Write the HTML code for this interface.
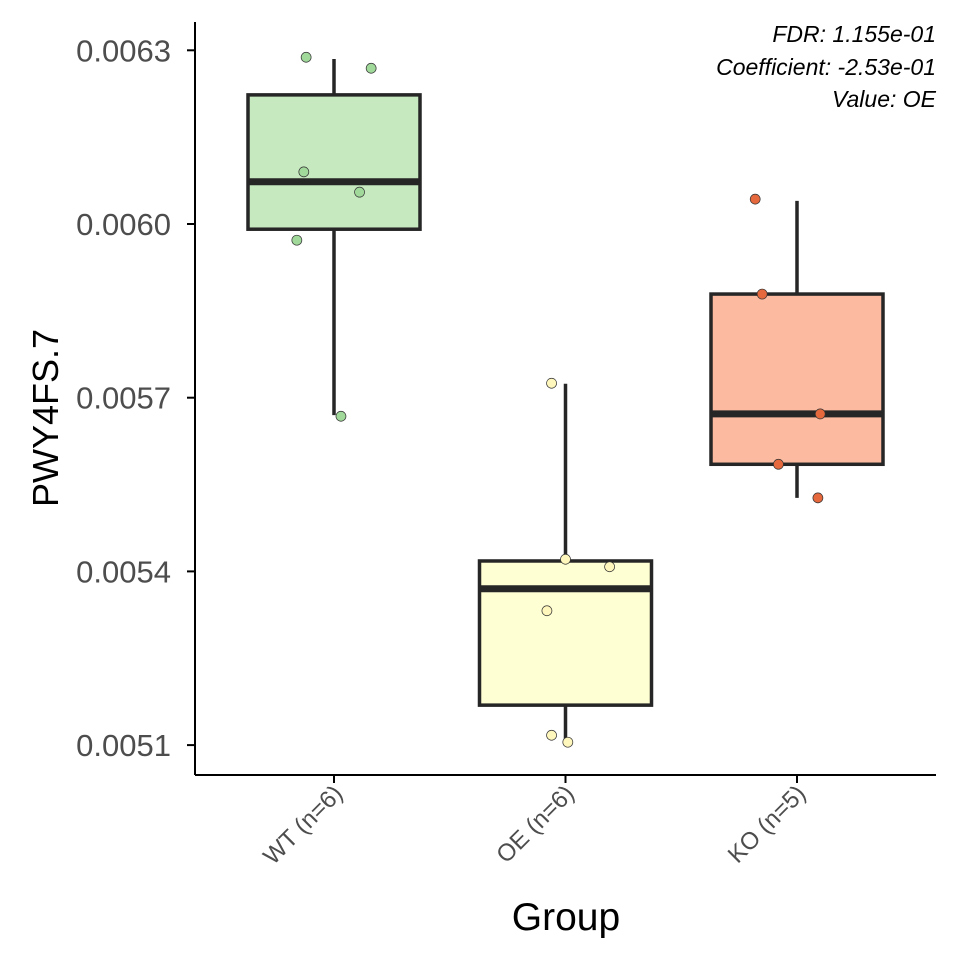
<!DOCTYPE html>
<html><head><meta charset="utf-8"><style>
body{margin:0;background:#fff}
svg{display:block;font-family:"Liberation Sans",Arial,sans-serif}
</style></head><body>
<svg id="chart" width="960" height="960">
<rect width="960" height="960" fill="#fff"/>
<g id="marks"></g>
<line x1="195" y1="22" x2="195" y2="775" stroke="#000" stroke-width="2"/>
<line x1="195" y1="775" x2="936" y2="775" stroke="#000" stroke-width="2"/>
<g id="axes"></g>
<text x="566" y="930" text-anchor="middle" font-size="39" fill="#000">Group</text>
<text transform="translate(58,418) rotate(-90)" text-anchor="middle" font-size="36" fill="#000">PWY4FS.7</text>
<g font-size="23" font-style="italic" text-anchor="end" fill="#000">
<text x="936" y="42">FDR: 1.155e-01</text>
<text x="936" y="75">Coefficient: -2.53e-01</text>
<text x="936" y="107">Value: OE</text>
</g>
</svg>
<script>
const categories=["WT (n=6)","OE (n=6)","KO (n=5)"];
const q1=[0.005991,0.005169,0.005585];
const medians=[0.006073,0.005370,0.005672];
const q3=[0.006223,0.005418,0.005879];
const whiskLo=[0.005670,0.005105,0.005527];
const whiskHi=[0.006285,0.005724,0.006040];
const pointsWT=[0.006288,0.006269,0.006090,0.006055,0.005972,0.005668];
const pointsOE=[0.005725,0.005421,0.005408,0.005332,0.005117,0.005105];
const pointsKO=[0.006043,0.005879,0.005672,0.005585,0.005527];
const jitterWT=[-0.12,0.16,-0.13,0.11,-0.16,0.03];
const jitterOE=[-0.06,0,0.19,-0.08,-0.06,0.01];
const jitterKO=[-0.18,-0.15,0.1,-0.08,0.09];
const yTicks=[0.0051,0.0054,0.0057,0.0060,0.0063];
const fills=["#c7e9c0","#ffffd4","#fcbba1"];
const ptFills=["#a1d99b","#fff7bc","#e6693e"];
const NS="http://www.w3.org/2000/svg";
const y=v=>224-(v-0.0060)/0.0003*173.7;
const x=i=>334+i*231.5;
const bw=172;
function mk(tag,attrs,parent){const e=document.createElementNS(NS,tag);for(const k in attrs)e.setAttribute(k,attrs[k]);parent.appendChild(e);return e;}
const marks=document.getElementById('marks'),axes=document.getElementById('axes');
const pts=[pointsWT,pointsOE,pointsKO],jit=[jitterWT,jitterOE,jitterKO];
categories.forEach((c,i)=>{
  const cx=x(i);
  const w=mk('line',{x1:cx,x2:cx,y1:y(whiskHi[i]),y2:y(whiskLo[i]),stroke:'#262626','stroke-width':3.5},marks);
  
  
  const b=mk('rect',{x:cx-bw/2,y:y(q3[i]),width:bw,height:y(q1[i])-y(q3[i]),fill:fills[i],stroke:'#262626','stroke-width':3.5},marks);
  
  
  const m=mk('line',{x1:cx-bw/2,x2:cx+bw/2,y1:y(medians[i]),y2:y(medians[i]),stroke:'#262626','stroke-width':7},marks);
  
  
  pts[i].forEach((v,j)=>{
    const p=mk('circle',{cx:cx+jit[i][j]*bw*1.35,cy:y(v),r:5,fill:ptFills[i],stroke:'#333','stroke-width':0.7},marks);
    
    
  });
  const t=mk('line',{x1:cx,x2:cx,y1:775,y2:783,stroke:'#000','stroke-width':2},axes);
  
  
  const l=mk('text',{transform:`translate(${cx+10},${795}) rotate(-45)`,'text-anchor':'end','font-size':24,fill:'#4d4d4d'},axes);
  l.textContent=c;
  
  
});
yTicks.forEach(v=>{
  const t=mk('line',{x1:187,x2:195,y1:y(v),y2:y(v),stroke:'#000','stroke-width':2},axes);
  
  
  const l=mk('text',{x:171,y:y(v)+11,'text-anchor':'end','font-size':31,fill:'#4d4d4d'},axes);
  l.textContent=v.toFixed(4);
  
  
});
</script>
</body></html>
